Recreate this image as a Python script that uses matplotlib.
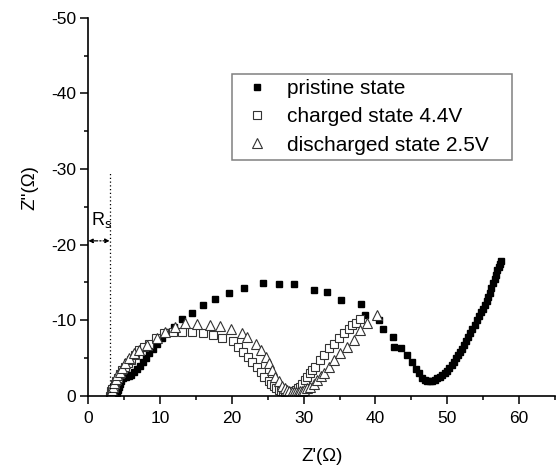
import matplotlib
matplotlib.use('Agg')
import matplotlib.pyplot as plt
from matplotlib.patches import Rectangle
from matplotlib.ticker import MultipleLocator

plt.rcParams['font.family'] = ['Liberation Sans', 'DejaVu Sans']
plt.rcParams['axes.unicode_minus'] = False

# pristine state (filled squares)
pristine_x = [3.9, 4.0, 4.1, 4.25, 4.4, 4.6, 4.85, 5.2, 5.6, 6.0, 6.4, 6.8, 7.2, 7.6, 8.0,
              8.5, 9.0, 9.6, 10.2, 11.0, 11.9, 13.0, 14.4, 16.0, 17.6, 19.6, 21.7, 24.3,
              26.5, 28.7, 31.5, 33.3, 35.2, 38.0, 38.5, 40.5, 41.1, 42.5, 42.6, 43.5,
              44.4, 45.1, 45.6, 46.0, 46.5, 46.9, 47.2, 47.6, 47.9, 48.3, 48.6, 49.0,
              49.3, 49.7, 50.0, 50.3, 50.6, 50.9, 51.2, 51.5, 51.8, 52.0, 52.3, 52.6,
              52.9, 53.2, 53.5, 53.8, 54.1, 54.4, 54.7, 55.0, 55.2, 55.5, 55.7, 55.9,
              56.1, 56.4, 56.6, 56.8, 57.0, 57.2, 57.3, 57.5]
pristine_y = [0.0, -0.4, -0.8, -1.2, -1.6, -2.0, -2.3, -2.5, -2.6, -2.8, -3.1, -3.5, -4.0,
              -4.5, -5.0, -5.6, -6.2, -6.9, -7.6, -8.4, -9.1, -10.2, -11.0, -12.0, -12.8,
              -13.6, -14.2, -14.9, -14.8, -14.8, -14.0, -13.8, -12.7, -12.2, -10.7, -10.0,
              -8.9, -7.8, -6.4, -6.3, -5.4, -4.5, -3.6, -3.0, -2.3, -2.1, -1.9, -1.9, -2.0,
              -2.1, -2.3, -2.5, -2.7, -3.0, -3.3, -3.7, -4.1, -4.5, -5.0, -5.4, -5.8, -6.2,
              -6.7, -7.2, -7.8, -8.3, -8.9, -9.4, -10.0, -10.5, -11.1, -11.5, -12.0, -12.5,
              -13.1, -13.6, -14.2, -14.9, -15.5, -16.0, -16.6, -17.0, -17.4, -17.9]

# charged state 4.4V (open squares)
charged_x = [3.0, 3.1, 3.2, 3.35, 3.5, 3.7, 3.9, 4.1, 4.4, 4.7, 5.1, 5.5, 6.0, 6.5, 7.1,
             7.7, 8.4, 9.4, 10.5, 11.8, 13.0, 14.4, 16.0, 17.4, 18.6, 20.2, 20.9, 21.6,
             22.3, 22.8, 23.5, 24.0, 24.5, 25.1, 25.5, 25.8, 26.2, 26.5, 26.8, 27.1,
             27.4, 27.7, 28.0, 28.3, 28.6, 28.9, 29.2, 29.5, 29.8, 30.2, 30.5, 30.9,
             31.2, 31.6, 32.3, 32.8, 33.5, 34.2, 34.9, 35.6, 36.3, 36.7, 37.3, 37.9]
charged_y = [0.0, -0.3, -0.6, -0.9, -1.2, -1.6, -2.0, -2.4, -2.9, -3.4, -3.8, -4.3, -4.8,
             -5.4, -6.0, -6.5, -6.9, -7.6, -8.3, -8.5, -8.5, -8.5, -8.3, -8.0, -7.7, -7.3,
             -6.5, -5.8, -5.2, -4.5, -3.8, -3.2, -2.5, -1.9, -1.6, -1.3, -1.0, -0.8, -0.7,
             -0.6, -0.5, -0.5, -0.5, -0.6, -0.7, -0.8, -1.0, -1.2, -1.6, -2.1, -2.5, -3.0,
             -3.4, -3.8, -4.7, -5.4, -6.3, -6.9, -7.6, -8.3, -8.8, -9.4, -9.7, -10.1]

# discharged state 2.5V (open triangles)
discharged_x = [3.0, 3.1, 3.25, 3.4, 3.6, 3.8, 4.05, 4.35, 4.7, 5.1, 5.6, 6.3, 7.0, 8.1,
                9.5, 10.7, 12.1, 13.5, 15.1, 17.0, 18.4, 19.8, 21.4, 22.1, 23.3, 24.0,
                24.7, 25.1, 25.6, 26.0, 26.5, 27.0, 27.4, 27.7, 28.0, 28.3, 28.6, 28.9,
                29.2, 29.5, 29.8, 30.1, 30.5, 30.9, 31.4, 31.9, 32.4, 32.8, 33.5, 34.2,
                35.1, 36.1, 37.0, 37.9, 38.8, 40.2]
discharged_y = [0.0, -0.4, -0.8, -1.2, -1.7, -2.2, -2.7, -3.2, -3.7, -4.3, -5.0, -5.6, -6.1,
                -6.7, -7.6, -8.5, -9.1, -9.6, -9.5, -9.4, -9.3, -8.9, -8.3, -7.8, -6.9,
                -6.1, -5.2, -4.3, -3.4, -2.5, -1.9, -1.3, -1.0, -0.8, -0.6, -0.5, -0.5,
                -0.5, -0.5, -0.6, -0.7, -0.8, -1.0, -1.2, -1.6, -2.1, -2.6, -3.0, -3.8,
                -4.7, -5.6, -6.5, -7.4, -8.7, -9.6, -10.7]

rs_x = 2.95     # intercept with real axis
rs_level = -20.5

fig = plt.figure(figsize=(5.56, 4.69), dpi=100)
ax = fig.add_axes([0.159, 0.156, 0.839, 0.806])

ax.plot(pristine_x, pristine_y, 's', color='black', markersize=5, label='pristine state')
ax.plot(charged_x, charged_y, 's', mfc='white', mec='#333333', mew=0.8, markersize=5.6,
        label='charged state 4.4V')
ax.plot(discharged_x, discharged_y, '^', mfc='white', mec='#333333', mew=0.8, markersize=6.8,
        label='discharged state 2.5V')

# R_s annotation
ax.plot([rs_x, rs_x], [0, -29.5], linestyle=(0, (1, 2)), color='black', lw=0.9)
ax.annotate('', xy=(rs_x, rs_level), xytext=(0, rs_level),
            arrowprops=dict(arrowstyle='<|-|>', linestyle='-.', color='black', lw=0.9,
                            mutation_scale=6, shrinkA=0, shrinkB=0))
ax.text(0.3, -22.0, r'R$_{\rm s}$', fontsize=13, ha='left', va='bottom')

ax.set_xlim(0, 65)
ax.set_ylim(0, -50)
ax.xaxis.set_major_locator(MultipleLocator(10))
ax.xaxis.set_minor_locator(MultipleLocator(5))
ax.yaxis.set_major_locator(MultipleLocator(10))
ax.yaxis.set_minor_locator(MultipleLocator(5))

ax.spines['top'].set_visible(False)
ax.spines['right'].set_visible(False)
for s in ['left', 'bottom']:
    ax.spines[s].set_linewidth(1.2)
ax.tick_params(which='major', direction='out', length=5.5, width=1.1, labelsize=12.5)
ax.tick_params(axis='x', which='major', pad=5.5)
ax.tick_params(which='minor', direction='out', length=3, width=1.1)

ax.set_xlabel("Z'(\u03a9)", fontsize=13.5, labelpad=16)
ax.set_ylabel("Z''(\u03a9)", fontsize=13.5)
ax.yaxis.set_label_coords(-0.108, 0.55)

leg = ax.legend(loc='center left', bbox_to_anchor=(232 / 556, 1 - 116.7 / 469),
                bbox_transform=fig.transFigure, fontsize=15, frameon=False,
                borderpad=0.4, borderaxespad=0, handlelength=1.6, handletextpad=0.65,
                labelspacing=0.45)

# plain grey legend box
box = Rectangle((232 / 556, 1 - 159.5 / 469), 280 / 556, 85 / 469,
                transform=fig.transFigure, fill=False, edgecolor='#808080', lw=1.1)
fig.patches.append(box)

fig.savefig('out.png', dpi=100)
